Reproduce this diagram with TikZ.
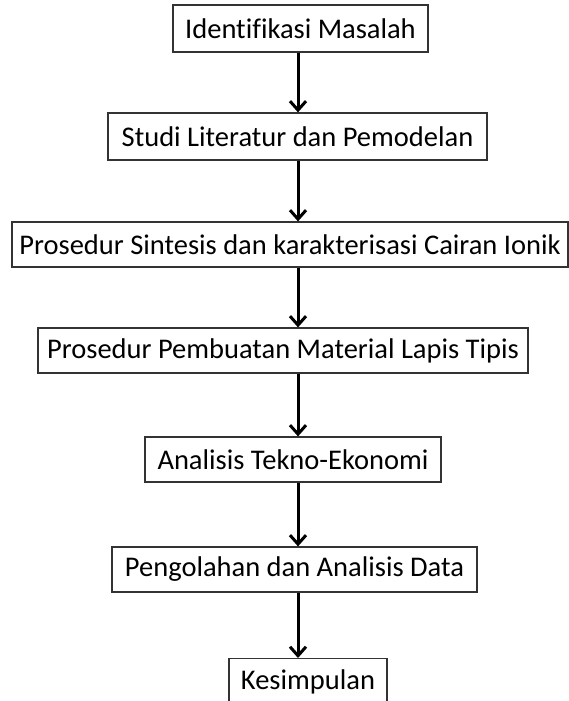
\documentclass[tikz,border=0pt]{standalone}
\usepackage{fontspec}
\setmainfont{Carlito}[Ligatures=NoCommon]
\usetikzlibrary{arrows.meta}
\begin{document}
\begin{tikzpicture}[x=1pt,y=-1pt,
  txt/.style={font=\fontsize{28.5}{32}\selectfont},
  stepbox/.style={draw=black!80,line width=1.2pt,fill=white,inner sep=0pt,
    minimum height=#1,txt},
  flow/.style={line width=3pt,-{Straight Barb[length=9pt,width=16pt,line width=3pt]}}]
\useasboundingbox (0,0) rectangle (569,701);
\coordinate (ax) at (298,0);
\node[stepbox=47pt,minimum width=255pt] (b1) at (300.5,28.5) {Identifikasi Masalah};
\node[stepbox=47pt,minimum width=379pt] (b2) at (297.5,136.5) {Studi Literatur dan Pemodelan};
\node[stepbox=45pt,minimum width=556pt] (b3) at (290,244.5) {Prosedur Sintesis dan karakterisasi Cairan Ionik};
\node[stepbox=45pt,minimum width=490pt] (b4) at (283,350.5) {Prosedur Pembuatan Material Lapis Tipis};
\node[stepbox=45pt,minimum width=296pt] (b5) at (293,459.5) {Analisis Tekno-Ekonomi};
\node[stepbox=45pt,minimum width=365pt] (b6) at (294.5,569.5) {Pengolahan dan Analisis Data};
\node[stepbox=46pt,minimum width=158pt,anchor=north] (b7) at (308,658) {};
\node[txt] (t7) at (308,682) {Kesimpulan};
\draw[flow] (b1.south -| ax) -- (b2.north -| ax);
\draw[flow] (b2.south -| ax) -- (b3.north -| ax);
\draw[flow] (b3.south -| ax) -- (b4.north -| ax);
\draw[flow] (b4.south -| ax) -- (b5.north -| ax);
\draw[flow] (b5.south -| ax) -- (b6.north -| ax);
\draw[flow] (b6.south -| ax) -- (b7.north -| ax);
\end{tikzpicture}
\end{document}
